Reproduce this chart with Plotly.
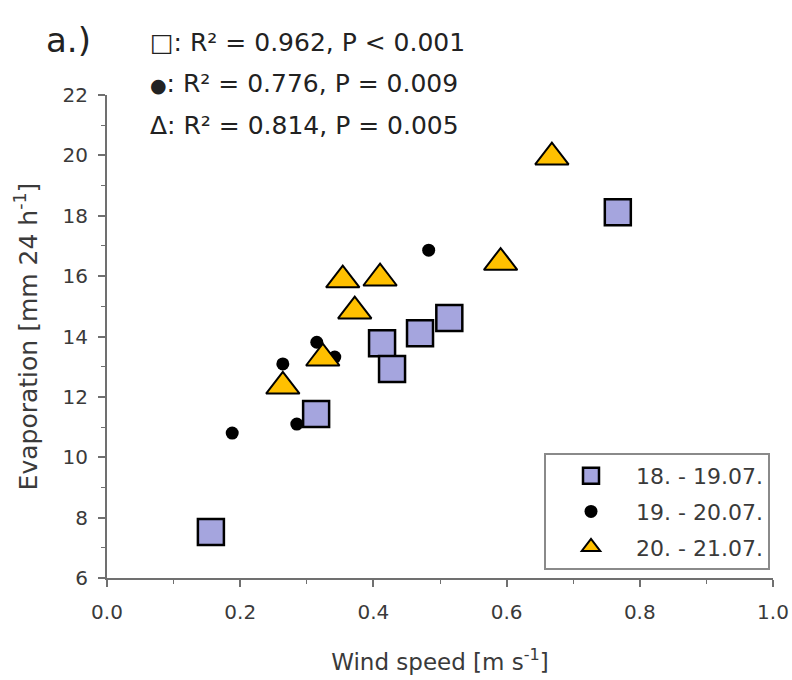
import plotly.graph_objects as go

# ---- data ----
sq_label = "18. - 19.07."
sq_x = [0.156, 0.314, 0.413, 0.428, 0.470, 0.514, 0.767]
sq_y = [7.52, 11.43, 13.78, 12.92, 14.11, 14.61, 18.12]

dot_label = "19. - 20.07."
dot_x = [0.188, 0.285, 0.264, 0.315, 0.342, 0.483]
dot_y = [10.80, 11.10, 13.09, 13.81, 13.32, 16.86]

tri_label = "20. - 21.07."
tri_x = [0.264, 0.324, 0.354, 0.410, 0.372, 0.591, 0.668]
tri_y = [12.35, 13.28, 15.87, 15.93, 14.84, 16.45, 19.94]

x_ticks = [0.0, 0.2, 0.4, 0.6, 0.8, 1.0]
x_ticklabels = ["0.0", "0.2", "0.4", "0.6", "0.8", "1.0"]
y_ticks = [6, 8, 10, 12, 14, 16, 18, 20, 22]

stats_lines = [
    "□: R² = 0.962, P < 0.001",
    "<span style='font-size:19px'>●</span>: R² = 0.776, P = 0.009",
    "Δ: R² = 0.814, P = 0.005",
]

# ---- layout geometry (screen pixels) ----
W, H = 792, 680
PLOT_LEFT, PLOT_RIGHT, PLOT_TOP, PLOT_BOTTOM = 107, 773, 95, 578
L, T = PLOT_LEFT, PLOT_TOP
R, B = W - PLOT_RIGHT, H - PLOT_BOTTOM
PW = PLOT_RIGHT - PLOT_LEFT
PH = PLOT_BOTTOM - PLOT_TOP


def px_x(px):
    return (px - PLOT_LEFT) / PW


def px_y(py):
    return (PLOT_BOTTOM - py) / PH


FONT = "DejaVu Sans"
AXIS_COL = "#707070"
TEXT_COL = "#3a3a3a"

fig = go.Figure()

fig.add_trace(go.Scatter(
    x=dot_x, y=dot_y, mode="markers", name=dot_label, legendrank=2,
    legendgroup="b",
    marker=dict(symbol="circle", size=13, color="black",
                line=dict(width=0)),
))
fig.add_trace(go.Scatter(
    x=sq_x, y=sq_y, mode="markers", name=sq_label, legendrank=1,
    legendgroup="a",
    marker=dict(symbol="square", size=26, color="#A5A5DE",
                line=dict(width=2.5, color="black")),
))
fig.add_trace(go.Scatter(
    x=tri_x, y=tri_y, mode="markers", name=tri_label, legendrank=3,
    legendgroup="c",
    marker=dict(symbol="triangle-up", size=29, color="#FFC000",
                line=dict(width=2, color="black")),
))

axis_common = dict(
    showline=True, linecolor=AXIS_COL, linewidth=2,
    ticks="outside", ticklen=7, tickwidth=1.5, tickcolor=AXIS_COL,
    showgrid=False, zeroline=False, mirror=False,
    tickfont=dict(family=FONT, size=20, color=TEXT_COL),
)

fig.update_xaxes(
    range=[0, 1], tickvals=x_ticks, ticktext=x_ticklabels,
    minor=dict(ticks="outside", ticklen=4, dtick=0.1, tickcolor=AXIS_COL,
               tickwidth=1.2),
    ticklabelstandoff=8,
    title=dict(text="Wind speed [m s<sup>-1</sup>]",
               font=dict(family=FONT, size=23, color=TEXT_COL), standoff=31),
    **axis_common,
)
fig.update_yaxes(
    range=[6, 22], tickvals=y_ticks,
    minor=dict(ticks="outside", ticklen=4, dtick=1, tickcolor=AXIS_COL,
               tickwidth=1.2),
    ticklabelstandoff=6,
    title=dict(text="Evaporation [mm 24 h<sup>-1</sup>]",
               font=dict(family=FONT, size=25, color=TEXT_COL), standoff=18),
    **axis_common,
)

annotations = [
    dict(text="a.)", x=px_x(44), y=px_y(40), xref="paper", yref="paper",
         xanchor="left", yanchor="middle", showarrow=False,
         font=dict(family=FONT, size=34, color="#222222")),
]
for i, line in enumerate(stats_lines):
    annotations.append(dict(
        text=line, x=px_x(148), y=px_y(42 + i * 41.5), xref="paper",
        yref="paper", xanchor="left", yanchor="middle", showarrow=False,
        font=dict(family=FONT, size=25, color="#222222")))

fig.update_layout(
    width=W, height=H,
    margin=dict(l=L, r=R, t=T, b=B, autoexpand=False),
    plot_bgcolor="white", paper_bgcolor="white",
    font=dict(family=FONT, color=TEXT_COL),
    annotations=annotations,
    legend=dict(
        x=px_x(770), y=px_y(570), xanchor="right", yanchor="bottom",
        bordercolor="#8a8a8a", borderwidth=2, bgcolor="white",
        font=dict(family=FONT, size=22, color=TEXT_COL),
        itemwidth=80, traceorder="grouped", tracegroupgap=4,
        itemsizing="trace",
    ),
)

fig.write_html(
    "out.html",
    config={"displayModeBar": False},
    post_script="document.body.style.margin='0px';"
                "document.body.style.overflow='hidden';",
)
